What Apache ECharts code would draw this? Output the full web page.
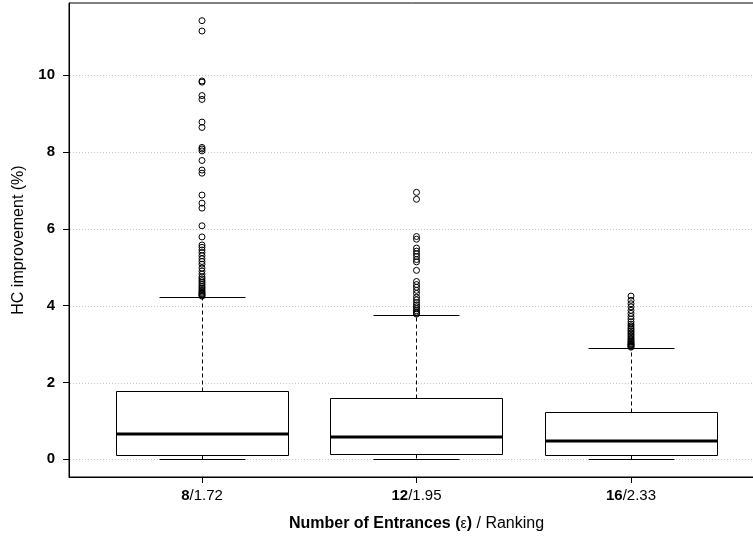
<!DOCTYPE html>
<html><head><meta charset="utf-8">
<script src="https://cdn.jsdelivr.net/npm/echarts@6/dist/echarts.min.js"></script>
<style>html,body{margin:0;padding:0;background:#fff}#c{width:753px;height:536px}</style>
</head><body><div id="c"></div>
<script>
// ---- data ----
const groupPositions = [1, 2, 3];
const entrances = ['8', '12', '16'];
const rankings = ['1.72', '1.95', '2.33'];
const whiskerLow = [0, 0, 0];
const q1 = [0.12, 0.14, 0.11];
const medians = [0.65, 0.58, 0.47];
const q3 = [1.77, 1.60, 1.23];
const whiskerHigh = [4.22, 3.75, 2.90];
const outliers8 = [11.42, 11.15, 9.85, 9.82, 9.47, 9.37, 8.78, 8.64, 8.12, 8.08, 8.03, 7.78, 7.53, 7.45,
  6.88, 6.67, 6.54, 6.08, 5.79, 5.58, 5.52, 5.45, 5.38, 5.30, 5.22, 5.15, 5.08, 4.98, 4.90, 4.82,
  4.75, 4.70, 4.65, 4.60, 4.55, 4.50, 4.46, 4.42, 4.38, 4.35, 4.32, 4.30, 4.27, 4.25];
const outliers12 = [6.95, 6.77, 5.80, 5.73, 5.50, 5.42, 5.35, 5.28, 5.20, 5.14, 4.92, 4.63, 4.55,
  4.48, 4.40, 4.32, 4.22, 4.15, 4.08, 4.02, 3.97, 3.92, 3.87, 3.83, 3.80, 3.78];
const outliers16 = [4.25, 4.14, 4.05, 3.97, 3.88, 3.80, 3.72, 3.65, 3.58, 3.52, 3.47, 3.42, 3.38,
  3.34, 3.30, 3.26, 3.22, 3.18, 3.14, 3.11, 3.08, 3.05, 3.02, 3.00, 2.98, 2.96, 2.94, 2.92];
const yTicks = [0, 2, 4, 6, 8, 10];
const xName = 'Number of Entrances';
const xNameSymbol = 'ε';
const xNameTail = ' / Ranking';
const yName = 'HC improvement (%)';

// ---- build ----
const boxData = groupPositions.map((p, i) => [p, whiskerLow[i], q1[i], medians[i], q3[i], whiskerHigh[i]]);
const outlierGroups = [outliers8, outliers12, outliers16];
const outlierData = [];
outlierGroups.forEach((arr, i) => arr.forEach(v => outlierData.push([groupPositions[i], v])));

const FONT = '"Liberation Sans", Arial, Helvetica, sans-serif';
const X_MIN = 0.38, X_MAX = 3.62;
const crisp = v => Math.round(v) + 0.5;

const chart = echarts.init(document.getElementById('c'), null, { renderer: 'canvas' });
chart.setOption({
  backgroundColor: '#fff',
  animation: false,
  grid: { left: 69, width: 695, top: 3, height: 474, outerBoundsMode: 'none', containLabel: false,
    show: true, borderColor: '#000', borderWidth: 1, backgroundColor: 'transparent' },
  xAxis: {
    type: 'value', min: X_MIN, max: X_MAX,
    axisLine: { show: true, onZero: false, lineStyle: { color: '#000', width: 1 } },
    axisTick: { show: true, customValues: groupPositions, length: 6, lineStyle: { color: '#000' } },
    axisLabel: {
      customValues: groupPositions, margin: 11, color: '#000', fontFamily: FONT, fontSize: 15,
      formatter: v => { const i = groupPositions.indexOf(v); return '{b|' + entrances[i] + '}{n|/' + rankings[i] + '}'; },
      rich: { b: { fontWeight: 'bold', fontSize: 15, fontFamily: FONT, color: '#000' }, n: { fontSize: 15, fontFamily: FONT, color: '#000' } }
    },
    splitLine: { show: false },
    name: '{b|' + xName + ' (}{e|' + xNameSymbol + '}{b|)}{n|' + xNameTail + '}',
    nameLocation: 'middle', nameGap: 39,
    nameTextStyle: {
      rich: {
        b: { fontWeight: 'bold', fontSize: 16, fontFamily: FONT, color: '#000' },
        e: { fontWeight: 'normal', fontSize: 14, fontFamily: FONT, color: '#000' },
        n: { fontSize: 16, fontFamily: FONT, color: '#000' }
      }
    }
  },
  yAxis: {
    type: 'value', min: -0.46, max: 11.88,
    axisLine: { show: true, onZero: false, lineStyle: { color: '#000', width: 1 } },
    axisTick: { show: true, customValues: yTicks, length: 6, lineStyle: { color: '#000' } },
    axisLabel: { customValues: yTicks, margin: 14, color: '#000', fontFamily: FONT, fontSize: 15, fontWeight: 'bold' },
    splitLine: { show: false },
    name: yName, nameLocation: 'middle', nameGap: 42,
    nameTextStyle: { fontSize: 16, fontFamily: FONT, color: '#000' }
  },
  series: [
    {
      type: 'custom', name: 'gridlines', z: 1, silent: true,
      data: yTicks.map(v => [X_MIN, v]),
      encode: { x: 0, y: 1 },
      renderItem: (params, api) => {
        const cs = params.coordSys;
        const y = crisp(api.coord([X_MIN, api.value(1)])[1]);
        return { type: 'line', shape: { x1: cs.x + 1, y1: y, x2: cs.x + cs.width, y2: y },
          style: { stroke: '#c8c8c8', lineWidth: 1, lineDash: [1, 2] } };
      }
    },
    {
      type: 'custom', name: 'boxes', z: 2, silent: true,
      data: boxData,
      encode: { x: 0, y: [1, 2, 3, 4, 5] },
      renderItem: (params, api) => {
        const x = api.value(0);
        const cx = crisp(api.coord([x, 0])[0]);
        const yLow = crisp(api.coord([x, api.value(1)])[1]);
        const yQ1 = crisp(api.coord([x, api.value(2)])[1]);
        const yMed = Math.round(api.coord([x, api.value(3)])[1]);
        const yQ3 = crisp(api.coord([x, api.value(4)])[1]);
        const yHigh = crisp(api.coord([x, api.value(5)])[1]);
        const bw = api.size([0.8, 0])[0];
        const half = Math.round(bw / 2);
        const cap = Math.round(bw / 4);
        const lineStyle = { stroke: '#000', lineWidth: 1 };
        const dashed = { stroke: '#000', lineWidth: 1, lineDash: [4, 3] };
        return {
          type: 'group',
          children: [
            { type: 'line', shape: { x1: cx, y1: yQ3, x2: cx, y2: yHigh }, style: dashed },
            { type: 'line', shape: { x1: cx, y1: yQ1, x2: cx, y2: yLow }, style: dashed },
            { type: 'line', shape: { x1: cx - cap, y1: yHigh, x2: cx + cap, y2: yHigh }, style: lineStyle },
            { type: 'line', shape: { x1: cx - cap, y1: yLow, x2: cx + cap, y2: yLow }, style: lineStyle },
            { type: 'rect', shape: { x: cx - half, y: yQ3, width: 2 * half, height: yQ1 - yQ3 },
              style: { fill: '#fff', stroke: '#000', lineWidth: 1 } },
            { type: 'line', shape: { x1: cx - half, y1: yMed, x2: cx + half, y2: yMed }, style: { stroke: '#000', lineWidth: 3 } }
          ]
        };
      }
    },
    {
      type: 'scatter', name: 'outliers', z: 3, silent: true,
      data: outlierData,
      symbol: 'circle', symbolSize: 6,
      itemStyle: { color: 'rgba(0,0,0,0)', borderColor: '#000', borderWidth: 1, opacity: 1 }
    }
  ]
});
</script>
</body></html>
